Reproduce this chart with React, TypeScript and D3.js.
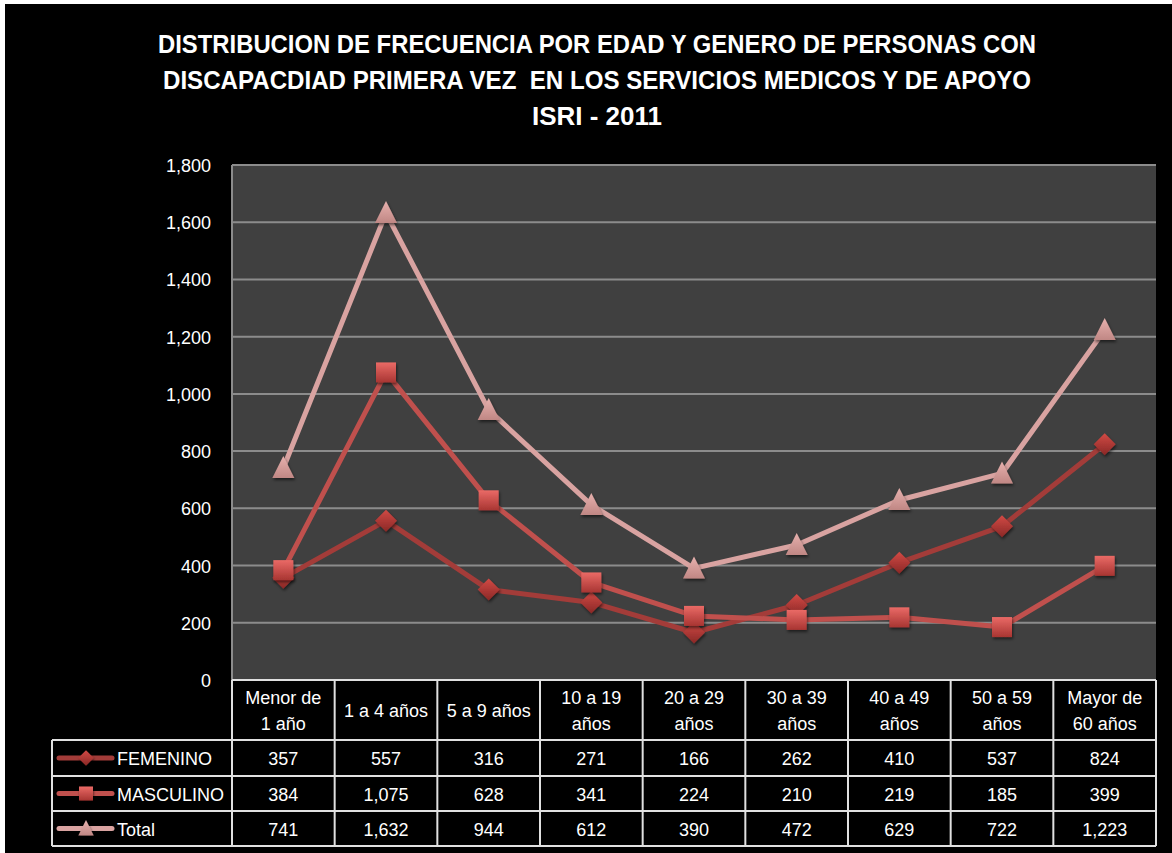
import React from 'react';
import * as d3 from 'd3';

// age groups (table header has two lines per column)
const categories = ['Menor de 1 año', '1 a 4 años', '5 a 9 años', '10 a 19 años', '20 a 29 años', '30 a 39 años', '40 a 49 años', '50 a 59 años', 'Mayor de 60 años'];
const headerLines = [['Menor de', '1 año'], ['1 a 4 años'], ['5 a 9 años'], ['10 a 19', 'años'], ['20 a 29', 'años'], ['30 a 39', 'años'], ['40 a 49', 'años'], ['50 a 59', 'años'], ['Mayor de', '60 años']];

const femenino = [357, 557, 316, 271, 166, 262, 410, 537, 824];
const masculino = [384, 1075, 628, 341, 224, 210, 219, 185, 399];
const total = [741, 1632, 944, 612, 390, 472, 629, 722, 1223];

const yTicks = [0, 200, 400, 600, 800, 1000, 1200, 1400, 1600, 1800];

const titleLines = [
  'DISTRIBUCION DE FRECUENCIA POR EDAD Y GENERO DE PERSONAS CON',
  'DISCAPACDIAD PRIMERA VEZ  EN LOS SERVICIOS MEDICOS Y DE APOYO',
  'ISRI - 2011',
];

const series = [
  { name: 'FEMENINO', values: femenino, line: '#a33c39', marker: 'diamond', light: '#d24a45', dark: '#8a2826' },
  { name: 'MASCULINO', values: masculino, line: '#c0504d', marker: 'square', light: '#ea6a66', dark: '#a83532' },
  { name: 'Total', values: total, line: '#d9a3a1', marker: 'triangle', light: '#e7b1ae', dark: '#c08784' },
];

const W = 1172, H = 853;
const plot = { left: 232, right: 1156, top: 165, bottom: 680 };
const rowEdges = [680, 740, 776, 811, 846];
const legendLeft = 52;
const font = '"Liberation Sans", Arial, sans-serif';

function Marker({ type, x, y, id }: { type: string; x: number; y: number; id: string }) {
  const fill = `url(#grad-${id})`;
  if (type === 'diamond') {
    const r = 11;
    return <path d={`M${x},${y - r}L${x + r},${y}L${x},${y + r}L${x - r},${y}Z`} fill={fill} filter="url(#shadow)" />;
  }
  if (type === 'square') {
    const s = 20;
    return <rect x={x - s / 2} y={y - s / 2} width={s} height={s} fill={fill} filter="url(#shadow)" />;
  }
  // triangle
  return <path d={`M${x},${y - 12}L${x + 11},${y + 10}L${x - 11},${y + 10}Z`} fill={fill} filter="url(#shadow)" />;
}

const App = () => {
  const x = d3.scaleBand().domain(categories).range([plot.left, plot.right]);
  const y = d3.scaleLinear().domain([0, 1800]).range([plot.bottom, plot.top]);
  const cx = (c: string) => (x(c) as number) + x.bandwidth() / 2;
  const lineGen = d3.line<number>()
    .x((d, i) => cx(categories[i]))
    .y(d => y(d));

  return (
    <svg width={W} height={H} style={{ position: 'absolute', left: 0, top: 0, display: 'block' }} fontFamily={font}>
      <defs>
        {series.map((s, i) => (
          <linearGradient key={i} id={`grad-${i}`} x1="0" y1="0" x2="0" y2="1">
            <stop offset="0%" stopColor={s.light} />
            <stop offset="100%" stopColor={s.dark} />
          </linearGradient>
        ))}
        <filter id="shadow" x="-50%" y="-50%" width="200%" height="200%">
          <feDropShadow dx="1" dy="2" stdDeviation="1.5" floodColor="#000" floodOpacity="0.55" />
        </filter>
      </defs>
      <rect width={W} height={H} fill="#ffffff" />
      <rect x={5} y={4} width={W - 5} height={H - 4} fill="#000000" />

      {/* title */}
      {titleLines.map((t, i) => (
        <text key={i} x={597} y={53 + i * 36} textAnchor="middle" fill="#ffffff" fontWeight="bold" fontSize={25}
          style={{ whiteSpace: 'pre' }}
          textLength={i === 0 ? 878 : i === 1 ? 868 : 130} lengthAdjust="spacingAndGlyphs">{t}</text>
      ))}

      {/* plot area */}
      <rect x={plot.left} y={plot.top} width={plot.right - plot.left} height={plot.bottom - plot.top} fill="#404040" />
      {yTicks.map(t => (
        <g key={t}>
          <line x1={plot.left} x2={plot.right} y1={y(t)} y2={y(t)} stroke="#8c8c8c" strokeWidth={2} />
          <text x={211} y={y(t) + 7} textAnchor="end" fill="#ffffff" fontSize={18}>{d3.format(',')(t)}</text>
        </g>
      ))}
      <line x1={plot.left} x2={plot.left} y1={plot.top} y2={plot.bottom} stroke="#8c8c8c" strokeWidth={2} />

      {/* lines */}
      {series.map((s) => (
        <path key={s.name} d={lineGen(s.values) as string} fill="none" stroke={s.line} strokeWidth={5} strokeLinejoin="round" />
      ))}
      {series.map((s, i) => (
        <g key={s.name}>
          {s.values.map((v, j) => (
            <Marker key={j} type={s.marker} x={cx(categories[j])} y={y(v)} id={String(i)} />
          ))}
        </g>
      ))}

      {/* data table */}
      <rect x={plot.left} y={plot.bottom} width={plot.right - plot.left} height={rowEdges[4] - rowEdges[0]} fill="#000" />
      {categories.map((c, j) => {
        const lines = headerLines[j];
        const mid = (rowEdges[0] + rowEdges[1]) / 2;
        return (
          <g key={c}>
            {lines.map((l, k) => (
              <text key={k} x={cx(c)} y={lines.length === 1 ? mid + 7 : mid + 7 + (k === 0 ? -13 : 13)} textAnchor="middle" fill="#ffffff" fontSize={18}>{l}</text>
            ))}
            {series.map((s, i) => (
              <text key={s.name} x={cx(c)} y={(rowEdges[i + 1] + rowEdges[i + 2]) / 2 + 7} textAnchor="middle" fill="#ffffff" fontSize={18}>
                {d3.format(',')(s.values[j])}
              </text>
            ))}
          </g>
        );
      })}
      {series.map((s, i) => {
        const mid = (rowEdges[i + 1] + rowEdges[i + 2]) / 2;
        return (
          <g key={s.name}>
            <line x1={59} x2={112} y1={mid} y2={mid} stroke={s.line} strokeWidth={5} strokeLinecap="round" />
            <g transform={`translate(${86},${mid}) scale(0.7) translate(${-86},${-mid})`}>
              <Marker type={s.marker} x={86} y={mid} id={String(i)} />
            </g>
            <text x={117} y={mid + 7} fill="#ffffff" fontSize={18}>{s.name}</text>
          </g>
        );
      })}
      {/* table grid */}
      <g stroke="#e0e0e0" strokeWidth={2} fill="none">
        <line x1={plot.left} x2={plot.right} y1={rowEdges[0]} y2={rowEdges[0]} />
        {rowEdges.slice(1).map(r => <line key={r} x1={legendLeft} x2={plot.right} y1={r} y2={r} />)}
        <line x1={legendLeft} x2={legendLeft} y1={rowEdges[1]} y2={rowEdges[4]} />
        {categories.map(c => <line key={c} x1={x(c) as number} x2={x(c) as number} y1={rowEdges[0]} y2={rowEdges[4]} />)}
        <line x1={plot.right} x2={plot.right} y1={rowEdges[0]} y2={rowEdges[4]} />
      </g>
    </svg>
  );
};

export default App;
